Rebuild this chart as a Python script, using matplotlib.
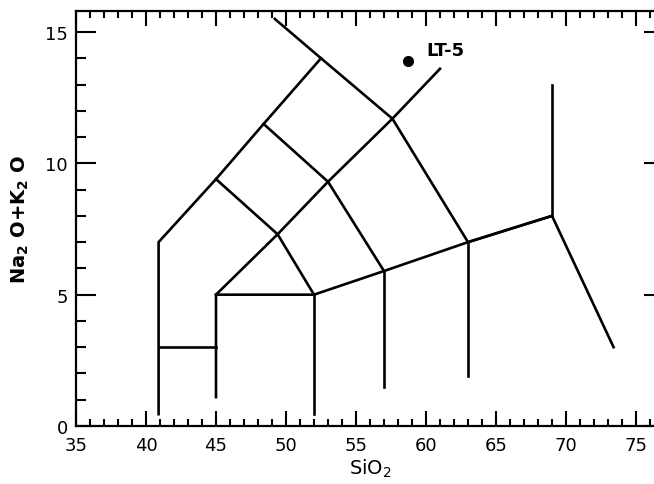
import matplotlib
matplotlib.use('Agg')
import matplotlib.pyplot as plt
from matplotlib.ticker import MultipleLocator

# field boundaries (SiO2, Na2O+K2O)
outer_x = [40.9, 40.9, 45.0, 48.4, 52.5, 57.6, 63.0, 69.0, 73.4]
outer_y = [0.45, 7.0, 9.4, 11.5, 14.0, 11.7, 7.0, 8.0, 3.0]
top_x = [49.2, 52.5]
top_y = [15.5, 14.0]
picro_x = [40.9, 45.0]
picro_y = [3.0, 3.0]
diag_x = [45.0, 49.4, 53.0, 57.6, 61.0]
diag_y = [5.0, 7.3, 9.3, 11.7, 13.6]
base_x = [45.0, 45.0, 52.0, 57.0, 63.0, 69.0]
base_y = [1.1, 5.0, 5.0, 5.9, 7.0, 8.0]
cross1_x = [45.0, 49.4, 52.0]
cross1_y = [9.4, 7.3, 5.0]
cross2_x = [48.4, 53.0, 57.0]
cross2_y = [11.5, 9.3, 5.9]
v52_x = [52.0, 52.0]
v52_y = [5.0, 0.45]
v57_x = [57.0, 57.0]
v57_y = [5.9, 1.5]
v63_x = [63.0, 63.0]
v63_y = [7.0, 1.9]
v69_x = [69.0, 69.0]
v69_y = [8.0, 13.0]

lines = [(outer_x, outer_y), (top_x, top_y), (picro_x, picro_y),
         (diag_x, diag_y), (base_x, base_y), (cross1_x, cross1_y),
         (cross2_x, cross2_y), (v52_x, v52_y), (v57_x, v57_y),
         (v63_x, v63_y), (v69_x, v69_y)]

sample_x = [58.7]
sample_y = [13.9]
sample_name = 'LT-5'

fig = plt.figure(figsize=(6.54, 4.85), dpi=100)
ax = fig.add_axes([76 / 654, 58 / 485, 588 / 654, 415 / 485])

for xs, ys in lines:
    ax.plot(xs, ys, color='black', lw=1.9, solid_joinstyle='miter')

ax.plot(sample_x, sample_y, 'o', color='black', ms=7)
ax.text(sample_x[0] + 1.3, sample_y[0] + 0.4, sample_name, fontsize=13,
        fontweight='bold', va='center', ha='left')

ax.set_xlim(35, 77)
ax.set_ylim(0, 15.8)
ax.xaxis.set_major_locator(MultipleLocator(5))
ax.xaxis.set_minor_locator(MultipleLocator(1))
ax.yaxis.set_major_locator(MultipleLocator(5))
ax.yaxis.set_minor_locator(MultipleLocator(1))
ax.tick_params(which='both', direction='in', top=True, right=True,
               width=1.5, labelsize=13)
ax.tick_params(axis='x', which='major', length=11, pad=7)
ax.tick_params(axis='x', which='minor', length=5)
ax.tick_params(axis='y', which='major', length=14.5, pad=6)
ax.tick_params(axis='y', which='minor', length=7.5)
for s in ax.spines.values():
    s.set_linewidth(1.6)

ax.set_xlabel('SiO$_2$', fontsize=14, labelpad=2)
ax.set_ylabel(r'Na$_\mathbf{2}$ O+K$_\mathbf{2}$ O', fontsize=14,
              fontweight='bold', labelpad=10)

fig.savefig('out.png', dpi=100)
